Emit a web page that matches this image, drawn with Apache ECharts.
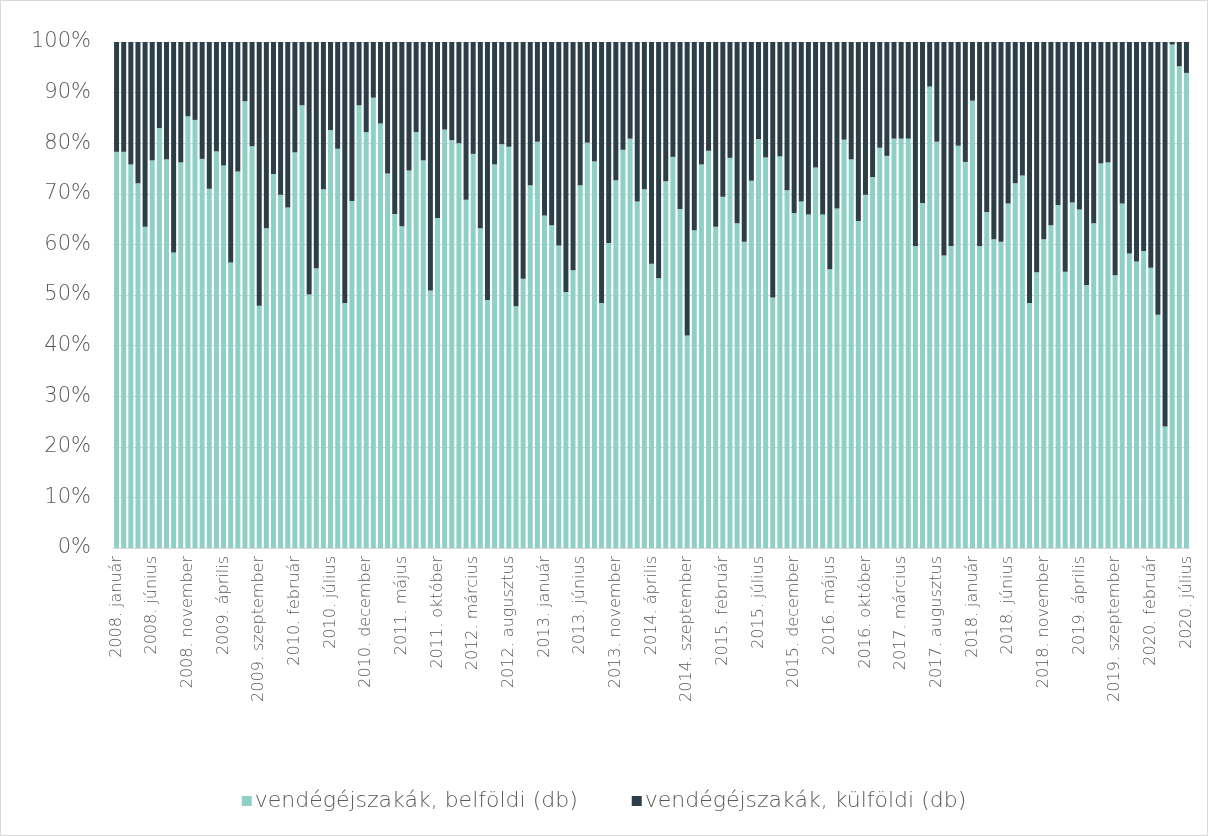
<!DOCTYPE html>
<html>
<head>
<meta charset="utf-8">
<script src="https://cdn.jsdelivr.net/npm/echarts@6/dist/echarts.min.js"></script>
<style>
  html, body { margin: 0; padding: 0; background: #fff; }
  #chart { width: 1206px; height: 834px; border: 1px solid #d9d9d9; }
</style>
</head>
<body>
<div id="chart"></div>
<script>
// hónapnevek, évek
var monthNames = ['január', 'február', 'március', 'április', 'május', 'június',
  'július', 'augusztus', 'szeptember', 'október', 'november', 'december'];
var years = [2008, 2009, 2010, 2011, 2012, 2013, 2014, 2015, 2016, 2017, 2018, 2019, 2020];
var lastMonthCount = 7; // 2020: január - július

var categories = [];
years.forEach(function (y, i) {
  var n = (i === years.length - 1) ? lastMonthCount : 12;
  for (var m = 0; m < n; m++) categories.push(y + '. ' + monthNames[m]);
});

// belföldi vendégéjszakák aránya (%)
var belfoldi = [
  78.3, 78.3, 75.8, 72.1, 63.5, 76.6, 83.0, 76.8, 58.4, 76.2, 85.3, 84.6,
  76.9, 71.0, 78.4, 75.6, 56.4, 74.4, 88.3, 79.4, 47.9, 63.2, 73.9, 69.8,
  67.3, 78.2, 87.5, 50.1, 55.3, 70.9, 82.6, 78.9, 48.4, 68.6, 87.5, 82.2,
  89.0, 83.9, 74.0, 66.0, 63.6, 74.6, 82.2, 76.6, 50.9, 65.2, 82.7, 80.6,
  80.0, 68.8, 77.9, 63.2, 49.0, 75.8, 79.8, 79.3, 47.8, 53.2, 71.7, 80.3,
  65.7, 63.8, 59.8, 50.6, 54.9, 71.7, 80.1, 76.4, 48.4, 60.3, 72.7, 78.7,
  80.9, 68.5, 70.9, 56.2, 53.3, 72.5, 77.3, 67.0, 42.0, 62.8, 75.8, 78.5,
  63.5, 69.4, 77.1, 64.2, 60.5, 72.6, 80.8, 77.2, 49.5, 77.4, 70.7, 66.2,
  68.5, 65.9, 75.2, 65.9, 55.1, 67.1, 80.7, 76.8, 64.6, 69.8, 73.3, 79.1,
  77.5, 80.9, 80.9, 80.9, 59.7, 68.2, 91.2, 80.3, 57.8, 59.7, 79.5, 76.3,
  88.4, 59.7, 66.4, 61.0, 60.5, 68.1, 72.1, 73.6, 48.4, 54.5, 61.0, 63.8,
  67.8, 54.6, 68.3, 66.9, 52.0, 64.2, 76.0, 76.2, 53.9, 68.1, 58.2, 56.6,
  58.7, 55.4, 46.1, 24.0, 99.5, 95.2, 93.9
];

// külföldi vendégéjszakák aránya (%)
var kulfoldi = [
  21.7, 21.7, 24.2, 27.9, 36.5, 23.4, 17.0, 23.2, 41.6, 23.8, 14.7, 15.4,
  23.1, 29.0, 21.6, 24.4, 43.6, 25.6, 11.7, 20.6, 52.1, 36.8, 26.1, 30.2,
  32.7, 21.8, 12.5, 49.9, 44.7, 29.1, 17.4, 21.1, 51.6, 31.4, 12.5, 17.8,
  11.0, 16.1, 26.0, 34.0, 36.4, 25.4, 17.8, 23.4, 49.1, 34.8, 17.3, 19.4,
  20.0, 31.2, 22.1, 36.8, 51.0, 24.2, 20.2, 20.7, 52.2, 46.8, 28.3, 19.7,
  34.3, 36.2, 40.2, 49.4, 45.1, 28.3, 19.9, 23.6, 51.6, 39.7, 27.3, 21.3,
  19.1, 31.5, 29.1, 43.8, 46.7, 27.5, 22.7, 33.0, 58.0, 37.2, 24.2, 21.5,
  36.5, 30.6, 22.9, 35.8, 39.5, 27.4, 19.2, 22.8, 50.5, 22.6, 29.3, 33.8,
  31.5, 34.1, 24.8, 34.1, 44.9, 32.9, 19.3, 23.2, 35.4, 30.2, 26.7, 20.9,
  22.5, 19.1, 19.1, 19.1, 40.3, 31.8, 8.8, 19.7, 42.2, 40.3, 20.5, 23.7,
  11.6, 40.3, 33.6, 39.0, 39.5, 31.9, 27.9, 26.4, 51.6, 45.5, 39.0, 36.2,
  32.2, 45.4, 31.7, 33.1, 48.0, 35.8, 24.0, 23.8, 46.1, 31.9, 41.8, 43.4,
  41.3, 44.6, 53.9, 76.0, 0.5, 4.8, 6.1
];

var yTicks = [0, 10, 20, 30, 40, 50, 60, 70, 80, 90, 100];

var chartDom = document.getElementById('chart');
var myChart = echarts.init(chartDom);
var font = '"DejaVu Sans", sans-serif';
var option;

option = {
  animation: false,
  textStyle: { fontFamily: font, fontWeight: 200 },
  grid: { left: 112, right: 17, top: 41, bottom: 287 },
  legend: {
    bottom: 18,
    left: 'center',
    itemWidth: 10,
    itemHeight: 10,
    itemGap: 54,
    icon: 'rect',
    textStyle: { color: '#595959', fontSize: 22, fontFamily: font, fontWeight: 200, padding: [0, 0, 0, -2] }
  },
  xAxis: {
    type: 'category',
    data: categories,
    axisTick: { show: false },
    axisLine: { lineStyle: { color: '#d9d9d9' } },
    axisLabel: {
      interval: 4,
      rotate: 90,
      color: '#595959',
      fontSize: 16,
      fontFamily: font,
      fontWeight: 200,
      margin: 8
    }
  },
  yAxis: {
    type: 'value',
    min: yTicks[0],
    max: yTicks[yTicks.length - 1],
    interval: 10,
    axisLine: { show: false },
    axisTick: { show: false },
    splitLine: { lineStyle: { color: '#d9d9d9' } },
    axisLabel: {
      formatter: '{value}%',
      color: '#595959',
      fontSize: 21,
      fontFamily: font,
      fontWeight: 200,
      margin: 22
    }
  },
  series: [
    {
      name: 'vendégéjszakák, belföldi (db)',
      type: 'bar',
      stack: 'total',
      data: belfoldi,
      barCategoryGap: '30%',
      itemStyle: { color: '#8ED0C6' }
    },
    {
      name: 'vendégéjszakák, külföldi (db)',
      type: 'bar',
      stack: 'total',
      data: kulfoldi,
      barCategoryGap: '30%',
      itemStyle: { color: '#2C3F48' }
    }
  ]
};

option && myChart.setOption(option);
</script>
</body>
</html>
